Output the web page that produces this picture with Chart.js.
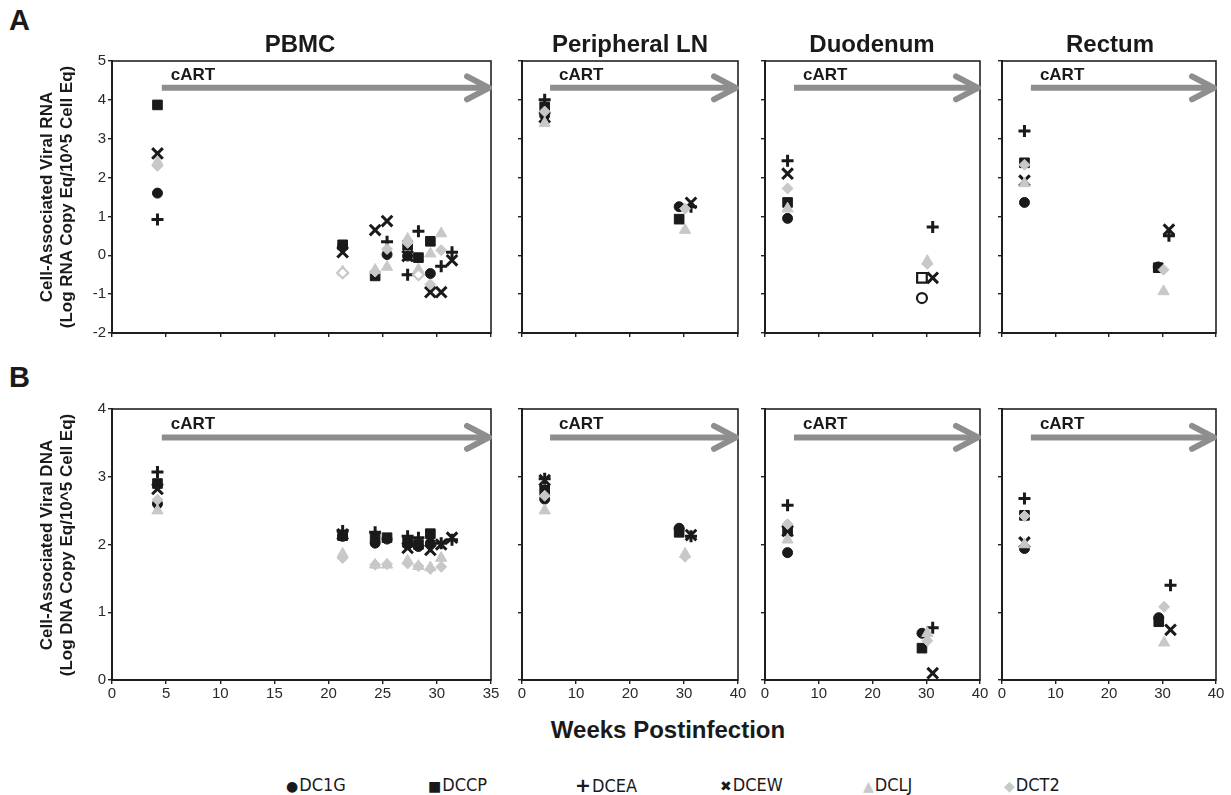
<!DOCTYPE html>
<html><head><meta charset="utf-8">
<script src="https://cdn.jsdelivr.net/npm/chart.js@4.4.0/dist/chart.umd.min.js"></script>
<style>
body{margin:0;background:#fff;}
#root{position:relative;width:1231px;height:795px;overflow:hidden;font-family:"Liberation Sans",Arial,sans-serif;color:#1a1a1a;background:#fff}
canvas{position:absolute}
.t{position:absolute;font-weight:bold;white-space:nowrap}
.title{font-size:24px;top:30px;transform:translateX(-50%)}
.ytitle{font-size:17px;line-height:20px;text-align:center;transform:translate(-50%,-50%) rotate(-90deg)}
.leg{position:absolute;top:774px;font-family:"Liberation Sans Narrow","DejaVu Sans Condensed",Arial,sans-serif;font-size:18px;white-space:nowrap;color:#1a1a1a}
.leg b{font-weight:normal;font-family:"DejaVu Sans",sans-serif;font-size:14px;margin-right:1px}
</style></head><body><div id="root"></div>
<script>
// ---------------- data ----------------
const animals = ['DC1G','DCCP','DCEA','DCEW','DCLJ','DCT2'];
const tissueTitles = ['PBMC','Peripheral LN','Duodenum','Rectum'];

// [week, log RNA copy eq / 10^5 cell eq]
const pbmcRNA = {
  DC1G: [[4.2,1.6],[21.3,0.22],[25.4,0.02],[27.3,-0.02],[29.4,-0.47]],
  DCCP: [[4.2,3.87],[21.3,0.27],[24.3,-0.53],[27.3,0.26],[28.3,-0.06],[29.4,0.36]],
  DCEA: [[4.2,0.92],[25.4,0.35],[27.3,-0.5],[28.3,0.62],[30.4,-0.28],[31.4,0.08]],
  DCEW: [[4.2,2.62],[21.3,0.08],[24.3,0.65],[25.4,0.88],[27.3,-0.02],[29.4,-0.95],[30.4,-0.95],[31.4,-0.13]],
  DCLJ: [[4.2,2.4],[21.3,-0.42],[24.3,-0.38],[25.4,-0.3],[27.3,0.42],[28.3,-0.37],[29.4,0.04],[30.4,0.56]],
  DCT2: [[4.2,2.3],[21.3,-0.45],[24.3,-0.42],[25.4,0.16],[27.3,0.32],[28.3,-0.5],[29.4,-0.75],[30.4,0.13]]
};
const lnRNA = {
  DC1G: [[4.2,3.6],[29.1,1.25]],
  DCCP: [[4.2,3.82],[29.1,0.93]],
  DCEA: [[4.2,4.0],[31.3,1.25]],
  DCEW: [[4.2,3.55],[31.3,1.35]],
  DCLJ: [[4.2,3.4],[30.2,0.65]],
  DCT2: [[4.2,3.7],[30.2,1.2]]
};
const duodenumRNA = {
  DC1G: [[4.2,0.95],[29.2,-1.1]],
  DCCP: [[4.2,1.36],[29.2,-0.58]],
  DCEA: [[4.2,2.43],[31.2,0.73]],
  DCEW: [[4.2,2.1],[31.2,-0.58]],
  DCLJ: [[4.2,1.2],[30.2,-0.15]],
  DCT2: [[4.2,1.72],[30.2,-0.22]]
};
const rectumRNA = {
  DC1G: [[4.2,1.36],[29.2,-0.3]],
  DCCP: [[4.2,2.38],[29.2,-0.32]],
  DCEA: [[4.2,3.2],[31.2,0.5]],
  DCEW: [[4.2,1.92],[31.2,0.66]],
  DCLJ: [[4.2,1.85],[30.2,-0.93]],
  DCT2: [[4.2,2.33],[30.2,-0.37]]
};
// [week, log DNA copy eq / 10^5 cell eq]
const pbmcDNA = {
  DC1G: [[4.2,2.6],[21.3,2.12],[24.3,2.02],[25.4,2.08],[27.3,2.0],[28.3,1.97],[29.4,2.02]],
  DCCP: [[4.2,2.9],[21.3,2.13],[24.3,2.1],[25.4,2.1],[27.3,2.03],[28.3,2.0],[29.4,2.16]],
  DCEA: [[4.2,3.07],[21.3,2.2],[24.3,2.18],[27.3,2.12],[28.3,2.1],[30.4,2.02],[31.4,2.07]],
  DCEW: [[4.2,2.82],[21.3,2.15],[27.3,1.95],[29.4,1.92],[30.4,2.0],[31.4,2.1]],
  DCLJ: [[4.2,2.5],[21.3,1.86],[24.3,1.7],[25.4,1.7],[27.3,1.76],[28.3,1.68],[29.4,1.66],[30.4,1.8]],
  DCT2: [[4.2,2.66],[21.3,1.8],[24.3,1.7],[25.4,1.71],[27.3,1.72],[28.3,1.68],[29.4,1.64],[30.4,1.67]]
};
const lnDNA = {
  DC1G: [[4.2,2.67],[29.1,2.24]],
  DCCP: [[4.2,2.8],[29.1,2.18]],
  DCEA: [[4.2,2.97],[31.3,2.12]],
  DCEW: [[4.2,2.95],[31.3,2.14]],
  DCLJ: [[4.2,2.5],[30.2,1.86]],
  DCT2: [[4.2,2.72],[30.2,1.82]]
};
const duodenumDNA = {
  DC1G: [[4.2,1.88],[29.2,0.69]],
  DCCP: [[4.2,2.2],[29.2,0.47]],
  DCEA: [[4.2,2.58],[31.2,0.77]],
  DCEW: [[4.2,2.2],[31.2,0.1]],
  DCLJ: [[4.2,2.07],[30.2,0.69]],
  DCT2: [[4.2,2.3],[30.2,0.58]]
};
const rectumDNA = {
  DC1G: [[4.2,1.94],[29.3,0.92]],
  DCCP: [[4.2,2.43],[29.3,0.86]],
  DCEA: [[4.2,2.68],[31.5,1.4]],
  DCEW: [[4.2,2.03],[31.5,0.74]],
  DCLJ: [[4.2,2.0],[30.3,0.55]],
  DCT2: [[4.2,2.42],[30.3,1.08]]
};
// samples drawn as open symbols: [panel, animal, week]
const openMarkers = [['duodenumRNA','DC1G',29.2],['duodenumRNA','DCCP',29.2],['pbmcRNA','DCT2',21.3],['pbmcRNA','DCT2',28.3]];
// cART start (week) per tissue and arrow level per row
const cartStartWeek = [4.6, 5.2, 5.4, 5.4];
const cartLevel = [4.31, 3.58];
// axis ticks
const xTicksPBMC = [0,5,10,15,20,25,30,35];
const xTicksTissue = [0,10,20,30,40];
const yTicksRNA = [-2,-1,0,1,2,3,4,5];
const yTicksDNA = [0,1,2,3,4];

// ---------------- layout / style ----------------
const panelData = [[pbmcRNA,lnRNA,duodenumRNA,rectumRNA],[pbmcDNA,lnDNA,duodenumDNA,rectumDNA]];
const panelKeys = [['pbmcRNA','lnRNA','duodenumRNA','rectumRNA'],['pbmcDNA','lnDNA','duodenumDNA','rectumDNA']];
const colFrames = [{left:112,right:491},{left:522,right:738},{left:765,right:980},{left:1002,right:1216}];
const rowFrames = [{top:61,bottom:333},{top:409,bottom:680}];
const BLACK='#1a1a1a', GRAY='#c8c8c8';
const styles = {
  DC1G:{shape:'circle',r:5,bw:1,color:BLACK},
  DCCP:{shape:'rect',r:6.8,bw:1,color:BLACK},
  DCEA:{shape:'cross',r:6,bw:3,color:BLACK},
  DCEW:{shape:'crossRot',r:7.5,bw:3,color:BLACK},
  DCLJ:{shape:'triangle',r:6.5,bw:1,color:GRAY},
  DCT2:{shape:'rectRot',r:5.5,bw:1,color:GRAY}
};
const FONT='"Liberation Sans", Arial, sans-serif';
const root=document.getElementById('root');
const YW=60, XH=30, PT=14, PR=16;

function isOpen(key,animal,x){return openMarkers.some(o=>o[0]===key&&o[1]===animal&&Math.abs(o[2]-x)<0.05);}

const framePlugin={id:'frame',beforeDatasetsDraw(chart,args,opts){
  const a=chart.chartArea, ctx=chart.ctx;
  ctx.save();
  ctx.strokeStyle='#222';ctx.lineWidth=1.6;
  ctx.strokeRect(a.left,a.top,a.right-a.left,a.bottom-a.top);
  // cART arrow
  const x0=chart.scales.x.getPixelForValue(opts.start);
  const y=chart.scales.y.getPixelForValue(opts.level);
  const xe=a.right-2;
  ctx.strokeStyle='#8e8e8e';ctx.lineWidth=6;ctx.lineCap='butt';
  ctx.beginPath();ctx.moveTo(x0,y);ctx.lineTo(xe-2,y);ctx.stroke();
  ctx.lineCap='round';ctx.lineJoin='round';
  ctx.beginPath();ctx.moveTo(xe-22,y-11.5);ctx.lineTo(xe,y);ctx.lineTo(xe-22,y+11.5);ctx.stroke();
  ctx.fillStyle='#1a1a1a';ctx.font='bold 17px '+FONT;ctx.textBaseline='alphabetic';
  ctx.fillText('cART',x0+9,y-8);
  ctx.restore();
}};

function makePanel(r,c){
  const cf=colFrames[c], rf=rowFrames[r];
  const cv=document.createElement('canvas');
  const w=cf.right-cf.left+YW+PR, h=rf.bottom-rf.top+PT+XH;
  cv.width=w;cv.height=h;
  cv.style.left=(cf.left-YW)+'px';cv.style.top=(rf.top-PT)+'px';
  cv.style.width=w+'px';cv.style.height=h+'px';
  root.appendChild(cv);
  const key=panelKeys[r][c], d=panelData[r][c];
  const xt=c===0?xTicksPBMC:xTicksTissue, yt=r===0?yTicksRNA:yTicksDNA;
  const datasets=animals.map((a,i)=>{
    const s=styles[a];
    return {
      label:a, order:6-i, clip:false,
      data:d[a].map(p=>({x:p[0],y:p[1]})),
      pointStyle:s.shape, pointRadius:s.r,
      pointBorderColor:s.color,
      pointBackgroundColor:ctx=>(ctx.raw&&isOpen(key,a,ctx.raw.x))?'#ffffff':s.color,
      pointBorderWidth:ctx=>(ctx.raw&&isOpen(key,a,ctx.raw.x))?2.2:s.bw,
      pointHoverRadius:s.r
    };
  });
  const axisCommon={
    grid:{display:true,drawOnChartArea:false,drawTicks:true,tickLength:4,color:'#222',lineWidth:1.4},
    border:{display:true,color:'#111',width:2}
  };
  new Chart(cv,{
    type:'scatter',
    data:{datasets},
    options:{
      responsive:false,animation:false,events:[],devicePixelRatio:1,
      layout:{padding:{left:0,top:PT,right:PR,bottom:0}},
      plugins:{legend:{display:false},tooltip:{enabled:false},
        frame:{start:cartStartWeek[c],level:cartLevel[r]}},
      scales:{
        x:Object.assign({type:'linear',min:0,max:xt[xt.length-1],
          afterFit:s=>{s.height=XH;},
          afterBuildTicks:s=>{s.ticks=xt.map(v=>({value:v}));},
          ticks:{display:r===1,font:{size:15,family:FONT},color:'#2a2a2a',padding:1,maxRotation:0,autoSkip:false}},axisCommon),
        y:Object.assign({type:'linear',min:yt[0],max:yt[yt.length-1],
          afterFit:s=>{s.width=YW;},
          afterBuildTicks:s=>{s.ticks=yt.map(v=>({value:v}));},
          ticks:{display:c===0,font:{size:15,family:FONT},color:'#2a2a2a',padding:2,autoSkip:false}},axisCommon)
      }
    },
    plugins:[framePlugin]
  });
}
for(let r=0;r<2;r++)for(let c=0;c<4;c++)makePanel(r,c);

// ---------------- text ----------------
function addText(html,cls,style){const e=document.createElement('div');e.className=cls;e.innerHTML=html;e.setAttribute('style',style);root.appendChild(e);return e;}
addText('A','t','left:9px;top:4px;font-size:29px');
addText('B','t','left:9px;top:361px;font-size:29px');
const titleCenters=[300,630,872,1110];
tissueTitles.forEach((t,i)=>addText(t,'t title','left:'+titleCenters[i]+'px'));
addText('Cell-Associated Viral RNA<br>(Log RNA Copy Eq/10^5 Cell Eq)','t ytitle','left:57px;top:197px');
addText('Cell-Associated Viral DNA<br>(Log DNA Copy Eq/10^5 Cell Eq)','t ytitle','left:57px;top:545px');
addText('Weeks Postinfection','t','left:668px;top:716px;font-size:24px;transform:translateX(-50%)');
const legendGlyph={DC1G:'●',DCCP:'■',DCEA:'<span style="font-weight:bold;font-size:19px">+</span>',DCEW:'<span style="font-size:14px">✖</span>',DCLJ:'▲',DCT2:'◆'};
const legendLeft=[286,428,575,720,863,1004];
animals.forEach((a,i)=>{
  const col=styles[a].color;
  addText('<b style="color:'+col+'">'+legendGlyph[a]+'</b>'+a,'leg','left:'+legendLeft[i]+'px');
});
</script></body></html>
